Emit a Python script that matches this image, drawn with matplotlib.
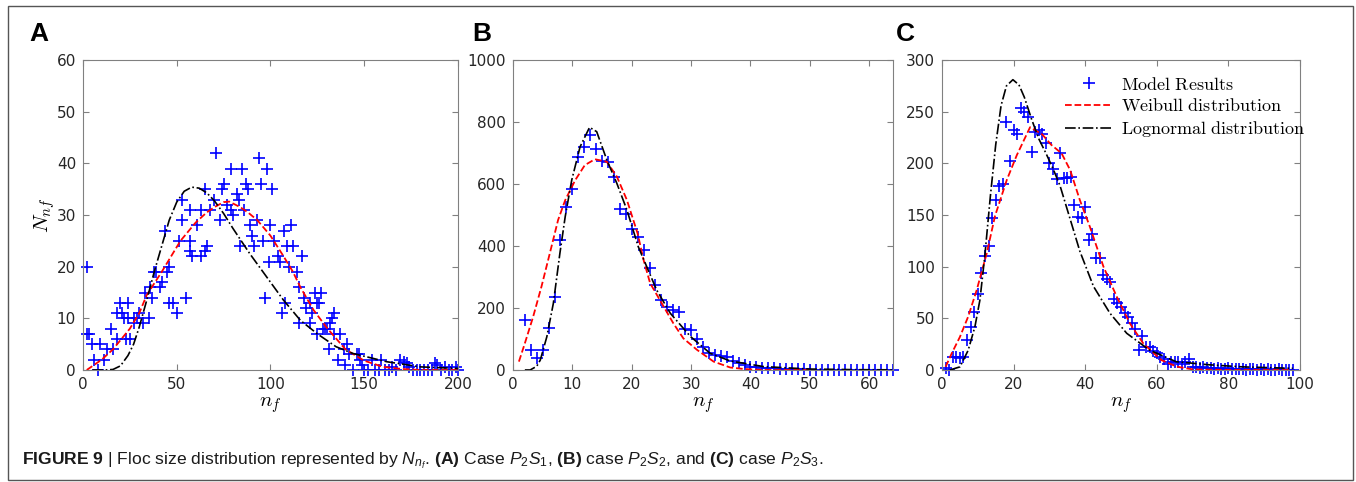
import matplotlib
matplotlib.use("Agg")
import matplotlib.pyplot as plt
from matplotlib.patches import Rectangle

plt.rcParams['mathtext.fontset'] = 'cm'
plt.rcParams['font.family'] = 'DejaVu Sans'

# --- Panel A: case P2S1 ---
a_x = [2, 2, 3, 5, 6, 8, 9, 11, 13, 15, 16, 18, 18, 20, 21, 22, 23, 24, 24, 25, 27, 27, 29, 30, 32,
       33, 35, 36, 37, 38, 39, 41, 42, 44, 45, 46, 46, 48, 50, 51, 53, 53, 55, 57, 57, 57, 58, 61,
       63, 63, 65, 65, 66, 68, 70, 71, 73, 74, 75, 77, 79, 79, 80, 82, 83, 84, 85, 86, 87, 88,
       89, 90, 91, 93, 94, 95, 96, 97, 98, 99, 100, 101, 102, 104, 105, 106, 107, 108, 109, 110,
       111, 112, 114, 115, 115, 117, 118, 119, 121, 121, 122, 124, 125, 125, 126, 127, 128, 129,
       130, 131, 132, 133, 134, 134, 136, 137, 139, 140, 141, 142, 144, 146, 147, 148, 149, 150,
       152, 154, 156, 158, 159, 161, 163, 165, 167, 169, 171, 173, 174, 176, 178, 180, 182, 184,
       186, 188, 189, 191, 193, 195, 197, 199, 200]
a_y = [20, 7, 7, 5, 2, 0, 5, 2, 4, 8, 4, 11, 6, 13, 11, 10, 6, 13, 10, 6, 9, 10, 10, 11, 9,
       15, 10, 16, 14, 19, 19, 16, 17, 27, 19, 20, 13, 13, 11, 25, 29, 33, 14, 25, 23, 31, 22, 28,
       31, 22, 23, 35, 24, 31, 33, 42, 29, 35, 36, 32, 39, 31, 30, 34, 33, 24, 39, 31, 36, 35,
       28, 26, 24, 29, 41, 36, 25, 14, 39, 21, 28, 35, 25, 22, 21, 11, 27, 13, 24, 20,
       28, 24, 19, 16, 9, 22, 14, 12, 13, 9, 11, 15, 7, 13, 13, 15, 8, 8,
       8, 4, 9, 10, 11, 7, 2, 7, 4, 1, 5, 3, 0, 3, 3, 2, 1, 0,
       0, 2, 0, 0, 2, 0, 0, 0.5, 0, 2, 1.6, 1.3, 0.6, 0, 0, 0, 0, 0,
       0, 1.3, 1, 0, 0.6, 0, 0, 0.6, 0]
a_wb_x = [2, 10, 16, 25, 30, 34, 42, 52, 60, 66, 70, 75, 78, 84, 88, 93, 100, 107, 112, 116, 123,
          130, 140, 150, 160, 170, 180, 200]
a_wb_y = [0, 2, 4, 8, 11, 14.5, 19, 25, 28.5, 30.5, 31.5, 32.5, 32.6, 31.5, 30.5, 29, 26, 22, 19,
          16, 11.6, 8.2, 4, 1.8, 0.6, 0.2, 0, 0]
a_ln_x = [5, 12, 16, 20, 24, 27, 30, 34, 38, 42, 46, 50, 54, 58, 62, 66, 70, 75, 80, 89, 98,
          107, 116, 125, 135, 144, 162, 180, 200]
a_ln_y = [0, 0, 0.1, 0.8, 2.8, 5, 8.3, 13.5, 19, 24, 29, 32.5, 34.6, 35.4, 35.2, 34.3, 32.8, 30.3,
          27.4, 22.5, 18, 13.5, 9.6, 7, 4.5, 3.2, 1.6, 0.6, 0.3]

# --- Panel B: case P2S2 ---
b_x = list(range(2, 65))
b_y = [160, 65, 38, 65, 135, 237, 420, 525, 583, 688, 720, 758, 712, 675, 672, 624, 521, 503, 454,
       430, 387, 328, 274, 226, 202, 192, 186, 131, 128, 99, 75, 54, 48, 45, 43, 29, 21, 16, 11,
       10, 8, 6, 5, 4, 3, 3, 2, 2, 1, 1, 1, 1, 0, 0, 0, 0, 0, 0, 0, 0, 0, 0, 0]
b_wb_x = [1, 2, 3.4, 4.8, 6.2, 7.6, 8.8, 10.5, 12.1, 13.8, 15.8, 17.5, 19.2, 21, 22, 23.1, 25.4,
          27, 28.7, 31, 33.8, 36.6, 39, 42, 46, 50]
b_wb_y = [27, 86, 172, 269, 376, 484, 548, 613, 661, 680, 672, 624, 548, 440, 355, 280, 204,
          151, 102, 65, 27, 8, 3, 0, 0, 0]
b_ln_x = [2, 2.9, 4, 4.6, 5.7, 6.8, 7.9, 8.8, 9.9, 11.3, 12.9, 14.1, 15.8, 17.5, 19.2, 21.1,
          24.2, 26.5, 29.9, 33.2, 36.6, 42.2, 50, 58, 64]
b_ln_y = [0, 0, 12, 32, 107, 215, 376, 495, 613, 720, 783, 769, 678, 602, 516, 398, 258, 183,
          108, 54, 29, 11, 3, 1, 0.5]

# --- Panel C: case P2S3 ---
c_x = list(range(1, 99))
c_y = [2, 0, 13, 13, 12, 13, 29, 42, 56, 74, 94, 110, 120, 147, 165, 178, 180, 240, 202, 232,
       228, 254, 250, 245, 211, 230, 232, 228, 220, 200, 195, 185, 210, 186, 186, 187, 160, 148,
       147, 158, 126, 132, 108, 108, 92, 88, 85, 69, 65, 61, 55, 51, 45, 40, 19, 33, 22, 22, 18,
       16, 13, 11, 6, 8, 8, 8, 6, 8, 11, 3, 3, 2, 3, 2, 2, 1, 2, 1, 1, 2, 1, 1, 1, 1, 0, 1, 1, 0,
       1, 0, 1, 0, 0, 1, 0, 0, 0, 0]
c_wb_x = [1, 2.7, 5, 7.3, 9.7, 12.5, 14.8, 18.1, 20.9, 24.6, 28, 30.5, 33.4, 35.8, 38.5, 41.3,
          45.1, 48.8, 52.5, 56.2, 61.2, 65.6, 70.2, 80, 97]
c_wb_y = [3, 16, 32, 51.6, 77.5, 113, 149, 184, 208, 235, 228, 218, 209.7, 193.5, 164.5, 138.7,
          100, 71, 45, 25.8, 9.7, 3.2, 0.5, 0, 0]
c_ln_x = [2.2, 5, 7.3, 9.2, 10.6, 12, 13.5, 15, 16.5, 18, 19.8, 21.5, 23, 25, 27, 29, 31, 33,
          35.8, 38.5, 42.3, 46.9, 51.6, 57.9, 65.4, 74.7, 84, 98]
c_ln_y = [0, 3, 19, 42, 68, 112, 168, 218, 256, 275, 281, 276, 264, 243, 224, 210, 195, 178,
          146, 115, 81, 55, 35.5, 19.4, 8, 5, 3, 1.6]

fig = plt.figure(figsize=(13.56, 4.82), dpi=100)
ax_a = fig.add_axes([0.0612, 0.2324, 0.2765, 0.643])
ax_b = fig.add_axes([0.3783, 0.2324, 0.2802, 0.643])
ax_c = fig.add_axes([0.6947, 0.2324, 0.2640, 0.643])

paneles = [
    (ax_a, a_x, a_y, a_wb_x, a_wb_y, a_ln_x, a_ln_y, (0, 200), (0, 60), [0, 50, 100, 150, 200]),
    (ax_b, b_x, b_y, b_wb_x, b_wb_y, b_ln_x, b_ln_y, (0, 64), (0, 1000), [0, 10, 20, 30, 40, 50, 60]),
    (ax_c, c_x, c_y, c_wb_x, c_wb_y, c_ln_x, c_ln_y, (0, 100), (0, 300), [0, 20, 40, 60, 80, 100]),
]
for ax, px, py, wx, wy, lx, ly, xl, yl, xt in paneles:
    ax.plot(px, py, '+', color='#0000ff', markersize=9, markeredgewidth=1.2, clip_on=False,
            label=r'$\mathrm{Model\ Results}$')
    ax.plot(wx, wy, '--', color='#ff0000', lw=1.3, label=r'$\mathrm{Weibull\ distribution}$')
    ax.plot(lx, ly, '-.', color='black', lw=1.2, label=r'$\mathrm{Lognormal\ distribution}$')
    ax.set_xlim(xl)
    ax.set_ylim(yl)
    ax.set_xticks(xt)
    ax.set_xlabel(r'$n_f$', fontsize=15, labelpad=2)
    ax.tick_params(direction='in', top=True, right=True, length=4, labelsize=11,
                   colors='#808080', labelcolor='#262626', pad=5)
    for s in ax.spines.values():
        s.set_color('#808080')

ax_a.set_ylabel(r'$N_{nf}$', fontsize=15, labelpad=0)
ax_c.legend(loc='upper right', bbox_to_anchor=(1.05, 0.99), frameon=False, fontsize=13,
            handlelength=2.6, borderaxespad=0.3, labelspacing=0.2, handletextpad=0.5)

fig.text(0.022, 0.915, 'A', fontsize=19, fontweight='bold', family='Liberation Sans')
fig.text(0.348, 0.915, 'B', fontsize=19, fontweight='bold', family='Liberation Sans')
fig.text(0.661, 0.915, 'C', fontsize=19, fontweight='bold', family='Liberation Sans')

caption = (r'$\mathbf{FIGURE\ 9}$ | Floc size distribution represented by $N_{n_f}$. '
           r'$\mathbf{(A)}$ Case $P_2S_1$, $\mathbf{(B)}$ case $P_2S_2$, and $\mathbf{(C)}$ case $P_2S_3$.')
plt.rcParams['mathtext.rm'] = 'Liberation Sans'
plt.rcParams['mathtext.it'] = 'Liberation Sans:italic'
plt.rcParams['mathtext.bf'] = 'Liberation Sans:bold'
fig.text(0.016, 0.036, caption, fontsize=12.6, family='Liberation Sans', color='#1a1a1a',
         math_fontfamily='custom')

fig.patches.append(Rectangle((0.006, 0.004), 0.9918, 0.9836, transform=fig.transFigure,
                             fill=False, edgecolor='#555555', lw=1))

plt.savefig('out.png', dpi=100)
plt.close(fig)
